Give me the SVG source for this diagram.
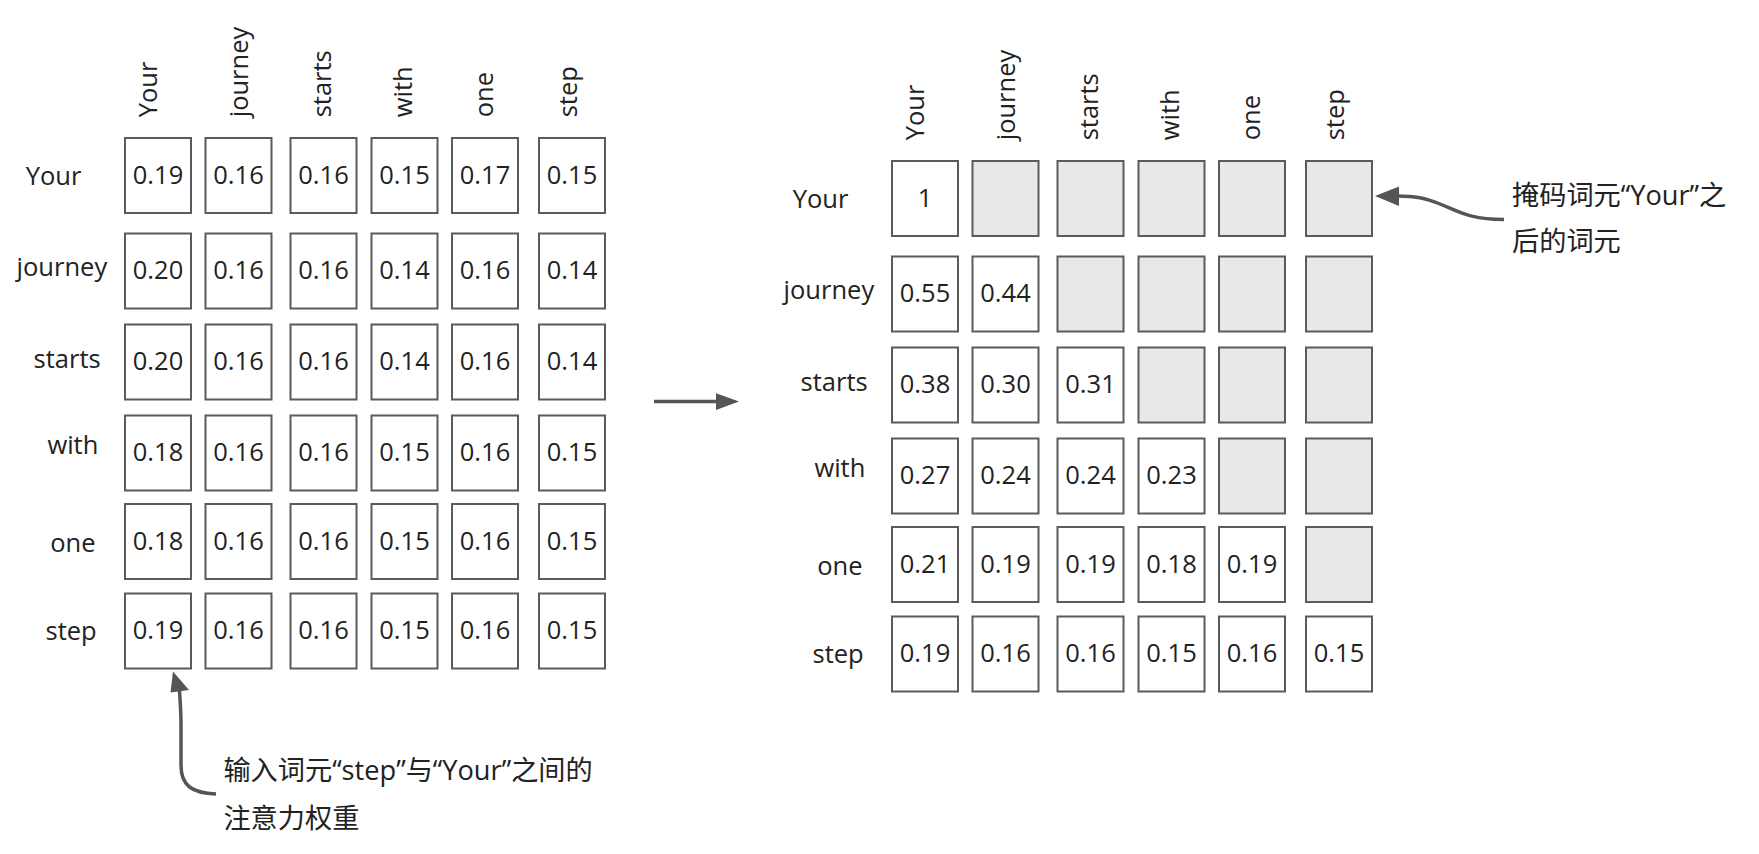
<svg xmlns="http://www.w3.org/2000/svg" width="1759" height="854" viewBox="0 0 1759 854">
<style>
.cell rect{fill:#fff;stroke:#5b5b5b;stroke-width:2}
.cell.m rect{fill:#e7e8e7}
.t{font-family:"Open Sans","Noto Sans",sans-serif;font-size:25.5px;fill:#222}
.cell text{text-anchor:middle}
.ann{font-family:"Open Sans","Noto Sans CJK SC",sans-serif;font-size:27.2px;fill:#222}
.conn{fill:none;stroke:#555;stroke-width:3.5}
.head{fill:#555}
</style>
<rect width="1759" height="854" fill="#fff"/>

<!-- Left matrix: column headers -->
<g id="left-col-headers" class="t">
<text transform="translate(157,117.3) rotate(-90)">Your</text>
<text transform="translate(248,117.3) rotate(-90)">journey</text>
<text transform="translate(330.7,117.3) rotate(-90)">starts</text>
<text transform="translate(411.7,117.3) rotate(-90)">with</text>
<text transform="translate(493,117.3) rotate(-90)">one</text>
<text transform="translate(576.7,117.3) rotate(-90)">step</text>
</g>
<g id="left-row-labels" class="t">
<text x="25.7" y="185">Your</text>
<text x="16.6" y="276">journey</text>
<text x="33.6" y="368.3">starts</text>
<text x="47.4" y="454">with</text>
<text x="50.2" y="552.3">one</text>
<text x="45.5" y="640">step</text>
</g>

<!-- Left matrix cells -->
<g id="left-r1" class="t">
<g id="L11" class="cell"><rect x="125" y="138" width="66" height="75"/><text x="158" y="183.5">0.19</text></g>
<g id="L12" class="cell"><rect x="205.5" y="138" width="66" height="75"/><text x="238.5" y="183.5">0.16</text></g>
<g id="L13" class="cell"><rect x="290.5" y="138" width="66" height="75"/><text x="323.5" y="183.5">0.16</text></g>
<g id="L14" class="cell"><rect x="371.5" y="138" width="66" height="75"/><text x="404.5" y="183.5">0.15</text></g>
<g id="L15" class="cell"><rect x="452" y="138" width="66" height="75"/><text x="485" y="183.5">0.17</text></g>
<g id="L16" class="cell"><rect x="539" y="138" width="66" height="75"/><text x="572" y="183.5">0.15</text></g>
</g>
<g id="left-r2" class="t">
<g id="L21" class="cell"><rect x="125" y="233.5" width="66" height="75"/><text x="158" y="279">0.20</text></g>
<g id="L22" class="cell"><rect x="205.5" y="233.5" width="66" height="75"/><text x="238.5" y="279">0.16</text></g>
<g id="L23" class="cell"><rect x="290.5" y="233.5" width="66" height="75"/><text x="323.5" y="279">0.16</text></g>
<g id="L24" class="cell"><rect x="371.5" y="233.5" width="66" height="75"/><text x="404.5" y="279">0.14</text></g>
<g id="L25" class="cell"><rect x="452" y="233.5" width="66" height="75"/><text x="485" y="279">0.16</text></g>
<g id="L26" class="cell"><rect x="539" y="233.5" width="66" height="75"/><text x="572" y="279">0.14</text></g>
</g>
<g id="left-r3" class="t">
<g id="L31" class="cell"><rect x="125" y="324.5" width="66" height="75"/><text x="158" y="370">0.20</text></g>
<g id="L32" class="cell"><rect x="205.5" y="324.5" width="66" height="75"/><text x="238.5" y="370">0.16</text></g>
<g id="L33" class="cell"><rect x="290.5" y="324.5" width="66" height="75"/><text x="323.5" y="370">0.16</text></g>
<g id="L34" class="cell"><rect x="371.5" y="324.5" width="66" height="75"/><text x="404.5" y="370">0.14</text></g>
<g id="L35" class="cell"><rect x="452" y="324.5" width="66" height="75"/><text x="485" y="370">0.16</text></g>
<g id="L36" class="cell"><rect x="539" y="324.5" width="66" height="75"/><text x="572" y="370">0.14</text></g>
</g>
<g id="left-r4" class="t">
<g id="L41" class="cell"><rect x="125" y="415.5" width="66" height="75"/><text x="158" y="461">0.18</text></g>
<g id="L42" class="cell"><rect x="205.5" y="415.5" width="66" height="75"/><text x="238.5" y="461">0.16</text></g>
<g id="L43" class="cell"><rect x="290.5" y="415.5" width="66" height="75"/><text x="323.5" y="461">0.16</text></g>
<g id="L44" class="cell"><rect x="371.5" y="415.5" width="66" height="75"/><text x="404.5" y="461">0.15</text></g>
<g id="L45" class="cell"><rect x="452" y="415.5" width="66" height="75"/><text x="485" y="461">0.16</text></g>
<g id="L46" class="cell"><rect x="539" y="415.5" width="66" height="75"/><text x="572" y="461">0.15</text></g>
</g>
<g id="left-r5" class="t">
<g id="L51" class="cell"><rect x="125" y="504" width="66" height="75"/><text x="158" y="549.5">0.18</text></g>
<g id="L52" class="cell"><rect x="205.5" y="504" width="66" height="75"/><text x="238.5" y="549.5">0.16</text></g>
<g id="L53" class="cell"><rect x="290.5" y="504" width="66" height="75"/><text x="323.5" y="549.5">0.16</text></g>
<g id="L54" class="cell"><rect x="371.5" y="504" width="66" height="75"/><text x="404.5" y="549.5">0.15</text></g>
<g id="L55" class="cell"><rect x="452" y="504" width="66" height="75"/><text x="485" y="549.5">0.16</text></g>
<g id="L56" class="cell"><rect x="539" y="504" width="66" height="75"/><text x="572" y="549.5">0.15</text></g>
</g>
<g id="left-r6" class="t">
<g id="L61" class="cell"><rect x="125" y="593.5" width="66" height="75"/><text x="158" y="639">0.19</text></g>
<g id="L62" class="cell"><rect x="205.5" y="593.5" width="66" height="75"/><text x="238.5" y="639">0.16</text></g>
<g id="L63" class="cell"><rect x="290.5" y="593.5" width="66" height="75"/><text x="323.5" y="639">0.16</text></g>
<g id="L64" class="cell"><rect x="371.5" y="593.5" width="66" height="75"/><text x="404.5" y="639">0.15</text></g>
<g id="L65" class="cell"><rect x="452" y="593.5" width="66" height="75"/><text x="485" y="639">0.16</text></g>
<g id="L66" class="cell"><rect x="539" y="593.5" width="66" height="75"/><text x="572" y="639">0.15</text></g>
</g>

<!-- Right matrix -->
<g id="right-col-headers" class="t">
<text transform="translate(924,140.3) rotate(-90)">Your</text>
<text transform="translate(1015,140.3) rotate(-90)">journey</text>
<text transform="translate(1097.7,140.3) rotate(-90)">starts</text>
<text transform="translate(1178.7,140.3) rotate(-90)">with</text>
<text transform="translate(1260,140.3) rotate(-90)">one</text>
<text transform="translate(1343.7,140.3) rotate(-90)">step</text>
</g>
<g id="right-row-labels" class="t">
<text x="792.7" y="208">Your</text>
<text x="783.6" y="299">journey</text>
<text x="800.6" y="391.3">starts</text>
<text x="814.4" y="477">with</text>
<text x="817.2" y="575.3">one</text>
<text x="812.5" y="663">step</text>
</g>
<g id="right-r1" class="t">
<g id="R11" class="cell"><rect x="892" y="161" width="66" height="75"/><text x="925" y="206.5">1</text></g>
<g id="R12" class="cell m"><rect x="972.5" y="161" width="66" height="75"/></g>
<g id="R13" class="cell m"><rect x="1057.5" y="161" width="66" height="75"/></g>
<g id="R14" class="cell m"><rect x="1138.5" y="161" width="66" height="75"/></g>
<g id="R15" class="cell m"><rect x="1219" y="161" width="66" height="75"/></g>
<g id="R16" class="cell m"><rect x="1306" y="161" width="66" height="75"/></g>
</g>
<g id="right-r2" class="t">
<g id="R21" class="cell"><rect x="892" y="256.5" width="66" height="75"/><text x="925" y="302">0.55</text></g>
<g id="R22" class="cell"><rect x="972.5" y="256.5" width="66" height="75"/><text x="1005.5" y="302">0.44</text></g>
<g id="R23" class="cell m"><rect x="1057.5" y="256.5" width="66" height="75"/></g>
<g id="R24" class="cell m"><rect x="1138.5" y="256.5" width="66" height="75"/></g>
<g id="R25" class="cell m"><rect x="1219" y="256.5" width="66" height="75"/></g>
<g id="R26" class="cell m"><rect x="1306" y="256.5" width="66" height="75"/></g>
</g>
<g id="right-r3" class="t">
<g id="R31" class="cell"><rect x="892" y="347.5" width="66" height="75"/><text x="925" y="393">0.38</text></g>
<g id="R32" class="cell"><rect x="972.5" y="347.5" width="66" height="75"/><text x="1005.5" y="393">0.30</text></g>
<g id="R33" class="cell"><rect x="1057.5" y="347.5" width="66" height="75"/><text x="1090.5" y="393">0.31</text></g>
<g id="R34" class="cell m"><rect x="1138.5" y="347.5" width="66" height="75"/></g>
<g id="R35" class="cell m"><rect x="1219" y="347.5" width="66" height="75"/></g>
<g id="R36" class="cell m"><rect x="1306" y="347.5" width="66" height="75"/></g>
</g>
<g id="right-r4" class="t">
<g id="R41" class="cell"><rect x="892" y="438.5" width="66" height="75"/><text x="925" y="484">0.27</text></g>
<g id="R42" class="cell"><rect x="972.5" y="438.5" width="66" height="75"/><text x="1005.5" y="484">0.24</text></g>
<g id="R43" class="cell"><rect x="1057.5" y="438.5" width="66" height="75"/><text x="1090.5" y="484">0.24</text></g>
<g id="R44" class="cell"><rect x="1138.5" y="438.5" width="66" height="75"/><text x="1171.5" y="484">0.23</text></g>
<g id="R45" class="cell m"><rect x="1219" y="438.5" width="66" height="75"/></g>
<g id="R46" class="cell m"><rect x="1306" y="438.5" width="66" height="75"/></g>
</g>
<g id="right-r5" class="t">
<g id="R51" class="cell"><rect x="892" y="527" width="66" height="75"/><text x="925" y="572.5">0.21</text></g>
<g id="R52" class="cell"><rect x="972.5" y="527" width="66" height="75"/><text x="1005.5" y="572.5">0.19</text></g>
<g id="R53" class="cell"><rect x="1057.5" y="527" width="66" height="75"/><text x="1090.5" y="572.5">0.19</text></g>
<g id="R54" class="cell"><rect x="1138.5" y="527" width="66" height="75"/><text x="1171.5" y="572.5">0.18</text></g>
<g id="R55" class="cell"><rect x="1219" y="527" width="66" height="75"/><text x="1252" y="572.5">0.19</text></g>
<g id="R56" class="cell m"><rect x="1306" y="527" width="66" height="75"/></g>
</g>
<g id="right-r6" class="t">
<g id="R61" class="cell"><rect x="892" y="616.5" width="66" height="75"/><text x="925" y="662">0.19</text></g>
<g id="R62" class="cell"><rect x="972.5" y="616.5" width="66" height="75"/><text x="1005.5" y="662">0.16</text></g>
<g id="R63" class="cell"><rect x="1057.5" y="616.5" width="66" height="75"/><text x="1090.5" y="662">0.16</text></g>
<g id="R64" class="cell"><rect x="1138.5" y="616.5" width="66" height="75"/><text x="1171.5" y="662">0.15</text></g>
<g id="R65" class="cell"><rect x="1219" y="616.5" width="66" height="75"/><text x="1252" y="662">0.16</text></g>
<g id="R66" class="cell"><rect x="1306" y="616.5" width="66" height="75"/><text x="1339" y="662">0.15</text></g>
</g>

<!-- Annotations -->
<g id="note-left" class="ann">
<text x="223.4" y="780">输入词元“step”与“Your”之间的</text>
<text x="223.4" y="828">注意力权重</text>
</g>
<g id="note-right" class="ann">
<text x="1512" y="205">掩码词元“Your”之</text>
<text x="1512" y="251">后的词元</text>
</g>

<!-- Connectors -->
<g id="connectors">
<path class="conn" d="M654,401.5 H718"/>
<polygon class="head" points="716,393.3 739,401.5 716,410"/>
<path class="conn" d="M216,794 C192,793 181,786 181,765 L181,725 C181,710 180,700 179.5,690"/>
<polygon class="head" points="173,671.5 170.5,692.5 189,690"/>
<path class="conn" d="M1504,219.5 C1470,219.5 1460,212 1440,204 C1425,198 1415,196 1397,196"/>
<polygon class="head" points="1375,196 1399,186.5 1399,206"/>
</g>
</svg>
